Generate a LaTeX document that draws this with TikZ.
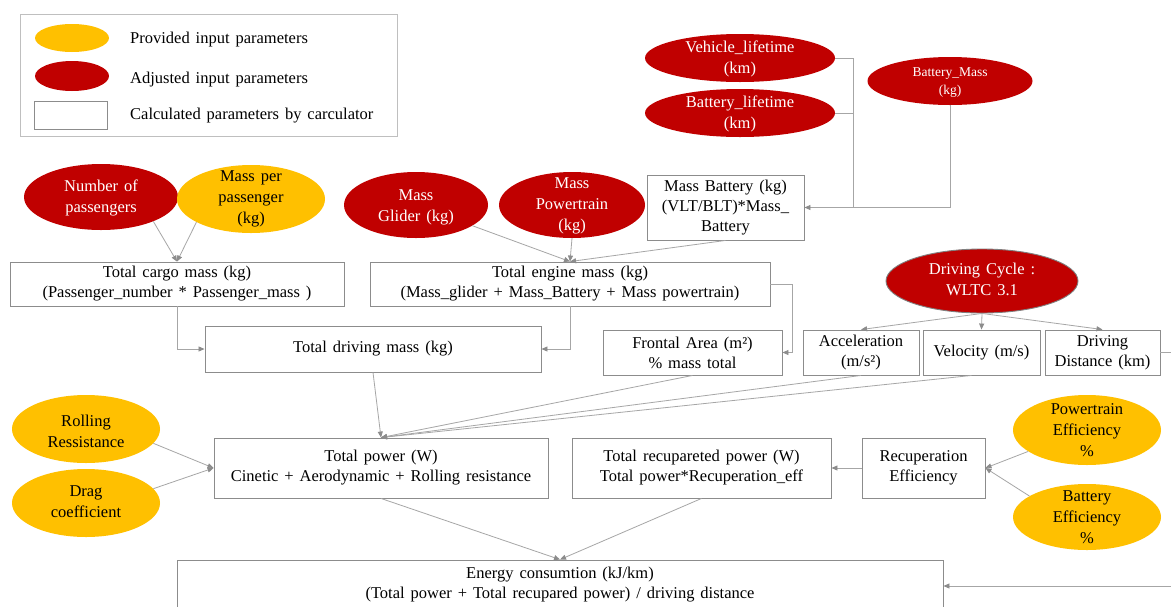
\documentclass[tikz,border=0pt]{standalone}
\usepackage{fontspec}
\setmainfont{Liberation Serif}
\usetikzlibrary{arrows.meta,shapes.geometric}
\definecolor{cyel}{HTML}{FFC000}
\definecolor{cred}{HTML}{C00000}
\definecolor{cline}{HTML}{A6A6A6}
\definecolor{ctip}{HTML}{8C8C8C}
\definecolor{cbox}{HTML}{8C8C8C}
\definecolor{clegend}{HTML}{BFBFBF}
\newcommand\myfontA{\fontsize{16.5}{20}\selectfont\spaceskip 0.36em plus 0.1em\relax}
\newcommand\myfontB{\fontsize{16.5}{21}\selectfont\spaceskip 0.36em plus 0.1em\relax}
\newcommand\myfontC{\fontsize{13.5}{18}\selectfont}
\begin{document}
\begin{tikzpicture}[x=1pt,y=-1pt,
  txt/.style={font=\myfontA, align=center, inner sep=0pt},
  box/.style={draw=cbox, line width=0.9pt, fill=white, txt},
  rell/.style={ellipse, fill=cred, inner sep=0pt},
  yell/.style={ellipse, fill=cyel, inner sep=0pt},
  wt/.style={txt, text=white, font=\myfontB},
  bt/.style={txt, font=\myfontB},
  conn/.style={draw=cline, line width=0.8pt},
  arr/.style={conn, -{Triangle[length=6pt,width=5pt,color=ctip]}}]
\useasboundingbox (0,0) rectangle (1171,606);
\clip (0,0) rectangle (1171,606);
\fill[white] (0,0) rectangle (1171,606);

% legend
\node[draw=clegend, line width=0.9pt, minimum width=377pt, minimum height=122pt, inner sep=0pt] (legend) at (208.5,75) {};
\node[yell, minimum width=74pt, minimum height=28pt] (ly) at (72,38) {};
\node[rell, minimum width=74pt, minimum height=30pt] (lr) at (72,76) {};
\node[box, minimum width=73pt, minimum height=28pt] (lb) at (70.5,115) {};
\node[txt, anchor=west] (lt1) at (130,40) {Provided input parameters};
\node[txt, anchor=west] (lt2) at (130,80) {Adjusted input parameters};
\node[txt, anchor=west] (lt3) at (130,116) {Calculated parameters by carculator};

% top-right ellipses
\node[rell, minimum width=190pt, minimum height=48pt] (veh) at (740,58) {};
\node[wt] (vehT) at (740,59) {Vehicle\_lifetime\\(km)};
\node[rell, minimum width=190pt, minimum height=48pt] (batlt) at (740,113) {};
\node[wt] (batltT) at (740,114) {Battery\_lifetime\\(km)};
\node[rell, minimum width=165pt, minimum height=48pt] (batmass) at (950,81) {};
\node[wt, font=\myfontC] (batmassT) at (950,83) {Battery\_Mass\\(kg)};

\node[box, minimum width=157pt, minimum height=65pt] (massbat) at (725.5,207.5) {Mass Battery (kg)\\(VLT/BLT)*Mass\_\\Battery};

% second row ellipses
\node[rell, minimum width=154pt, minimum height=66pt] (nop) at (101,197) {};
\node[wt] (nopT) at (101,198) {Number of\\passengers};
\node[yell, minimum width=148pt, minimum height=68pt] (mpp) at (251,199) {};
\node[bt] (mppT) at (mpp) {Mass per\\passenger\\(kg)};
\node[rell, minimum width=144pt, minimum height=66pt] (glider) at (416,205) {};
\node[wt] (gliderT) at (416,207) {Mass\\Glider (kg)};
\node[rell, minimum width=146pt, minimum height=66pt] (ptrain) at (572,205) {};
\node[wt] (ptrainT) at (572,206) {Mass\\Powertrain\\(kg)};

% mass boxes
\node[box, minimum width=334pt, minimum height=44pt] (cargo) at (177,284) {Total cargo mass (kg)\\(Passenger\_number * Passenger\_mass )};
\node[box, minimum width=400pt, minimum height=44pt] (engine) at (570,284) {Total engine mass (kg)\\(Mass\_glider + Mass\_Battery + Mass powertrain)};
\node[box, minimum width=336pt, minimum height=46pt] (driving) at (373,349) {Total driving mass (kg)};
\node[box, minimum width=179pt, minimum height=45pt] (frontal) at (692.5,352.5) {Frontal Area (m²)\\\% mass total};

% driving cycle
\node[rell, draw=gray, line width=0.9pt, minimum width=192pt, minimum height=64pt] (cycle) at (982,281) {};
\node[wt] (cycleT) at (982,279) {Driving Cycle :\\WLTC 3.1};
\node[box, minimum width=116pt, minimum height=45pt] (accel) at (861,352.5) {Acceleration\\(m/s²)};
\node[box, minimum width=117pt, minimum height=45pt] (vel) at (981.5,352.5) {Velocity (m/s)};
\node[box, minimum width=115pt, minimum height=45pt] (dist) at (1102.5,352.5) {Driving\\Distance (km)};

% power row
\node[yell, minimum width=148pt, minimum height=68pt] (roll) at (86,429) {};
\node[bt] (rollT) at (86,431) {Rolling\\Ressistance};
\node[yell, minimum width=148pt, minimum height=68pt] (drag) at (86,503) {};
\node[bt] (dragT) at (86,502) {Drag\\coefficient};
\node[box, minimum width=334pt, minimum height=60pt] (power) at (381,468) {Total power (W)\\Cinetic + Aerodynamic + Rolling resistance};
\node[box, minimum width=259pt, minimum height=60pt] (recup) at (701.5,468) {Total recupareted power (W)\\Total power*Recuperation\_eff};
\node[box, minimum width=123pt, minimum height=60pt] (receff) at (923.5,468) {Recuperation\\Efficiency};
\node[yell, minimum width=148pt, minimum height=70pt] (pteff) at (1087,430) {};
\node[bt] (pteffT) at (pteff) {Powertrain\\Efficiency\\\%};
\node[yell, minimum width=148pt, minimum height=66pt] (bateff) at (1087,517) {};
\node[bt] (bateffT) at (bateff) {Battery\\Efficiency\\\%};

% energy
\node[box, minimum width=766pt, minimum height=52pt] (energy) at (560,586) {};
\node[txt] (energyT) at (560,585) {Energy consumtion (kJ/km)\\(Total power + Total recupared power) / driving distance};

% connectors
\coordinate (j) at (853,207.5);
\draw[conn] (veh.east) -| (j);
\draw[conn] (batlt.east) -| (j);
\draw[arr] (batmass.south) |- (massbat.east);

\draw[arr] (nop.-25) -- (cargo.north);
\draw[arr] (mpp.-157) -- (cargo.north);
\draw[arr] (glider) -- (engine.north);
\draw[arr] (ptrain.south) -- (engine.north);
\draw[arr] (massbat.south) -- (engine.north);
\draw[arr] (cargo.south) |- (driving.west);
\draw[arr] (engine.south) |- (driving.east);
\coordinate (k) at (792,284);
\draw[arr] (engine.east) -- (k) |- (frontal.east);

\draw[arr] (cycle.south) -- (accel.north);
\draw[arr] (cycle.south) -- (vel.north);
\draw[arr] (cycle.south) -- (dist.north);
\coordinate (offa) at (1185,352.5);
\draw[conn] (dist.east) -- (offa);
\coordinate (offb) at (1185,586);
\draw[arr] (offb) -- (energy.east);

\draw[arr] (driving.south) -- (power.north);
\draw[arr] (frontal.south) -- (power.north);
\draw[arr] (accel.south) -- (power.north);
\draw[arr] ([xshift=-10pt]vel.south) -- (power.north);
\draw[arr] (roll.-12) -- (power.west);
\draw[arr] (drag.12) -- (power.west);
\draw[arr] (power.south) -- (energy.north);
\draw[arr] (recup.south) -- (energy.north);
\draw[arr] (receff.west) -- (recup.east);
\draw[arr] (pteff.200) -- (receff.east);
\draw[arr] (bateff.160) -- (receff.east);
\end{tikzpicture}
\end{document}
